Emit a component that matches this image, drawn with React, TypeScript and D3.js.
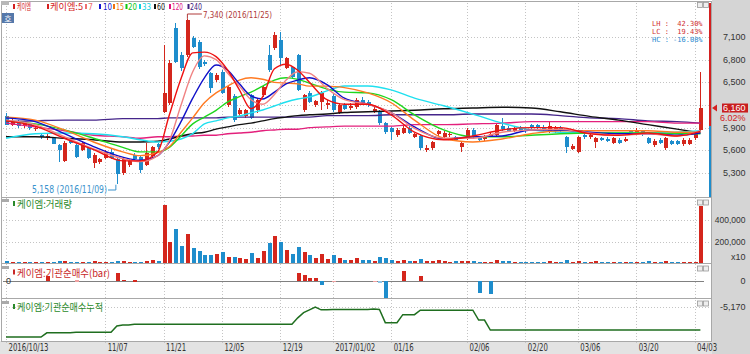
import React from 'react';
import * as d3 from 'd3';

// ---------- DATA ----------
const opens = [
  6060,5940,5990,5920,5950,5890,5800,5770,5760,5670,
  5460,5740,5670,5610,5630,5430,5440,5500,5580,5490,
  5300,5400,5540,5510,5400,5520,5690,6110,6230,7220,
  6860,6860,7090,7030,6770,6620,6530,6640,6200,6320,
  6080,6050,6330,6130,6330,6860,6950,7060,6690,6700,
  6860,6130,6360,6200,6240,6200,6320,6100,6200,6160,
  6170,6270,6240,6120,6110,5960,5900,5800,5830,5900,
  5780,5790,5610,5630,5810,5780,5800,5770,5650,5760,
  5870,5770,5750,5790,5800,5920,5900,5860,5900,5880,
  5930,5930,5910,5850,5850,5900,5770,5620,5580,5800,
  5770,5710,5760,5750,5700,5740,5730,5850,5830,5850,
  5760,5670,5740,5630,5720,5720,5680,5690,5760,5870,
];
const highs = [
  6090,6020,6000,5980,5960,5920,5830,5810,5780,5690,
  5720,5760,5690,5720,5650,5560,5500,5600,5620,5500,
  5500,5480,5560,5520,5700,5660,5700,6990,6800,7280,
  6900,7340,7110,7060,6800,6640,6620,6660,6460,6340,
  6160,6150,6350,6290,6460,6990,7160,7160,6840,6720,
  6880,6350,6380,6270,6380,6260,6340,6220,6220,6220,
  6290,6300,6260,6170,6130,5980,5910,5890,5920,5920,
  5830,5810,5670,5730,5870,5850,5840,5790,5720,5890,
  5890,5790,5800,5840,5960,6030,5920,5910,5920,5900,
  5950,5950,5930,5980,5920,5920,5790,5680,5790,5820,
  5820,5780,5780,5770,5780,5760,5770,5870,5890,5870,
  5780,5750,5760,5780,5740,5740,5760,5760,5830,6640,
];
const lows = [
  5930,5920,5900,5900,5870,5860,5750,5740,5680,5450,
  5450,5690,5500,5590,5480,5370,5420,5480,5480,5158,
  5280,5380,5470,5300,5390,5500,5620,6100,6200,6750,
  6650,6840,6950,6680,6720,6360,6500,6340,6180,5980,
  6060,6030,6010,6100,6310,6640,6930,6730,6670,6550,
  6380,6110,6220,6180,6130,6150,6110,6080,6130,6140,
  6150,6210,6180,6100,5940,5820,5740,5780,5810,5810,
  5760,5610,5580,5610,5790,5760,5780,5720,5580,5740,
  5750,5720,5730,5770,5780,5860,5840,5840,5850,5830,
  5880,5870,5850,5830,5830,5830,5560,5600,5560,5750,
  5750,5630,5720,5710,5680,5680,5710,5810,5810,5790,
  5680,5650,5680,5610,5670,5670,5660,5670,5740,5860,
];
const closes = [
  5940,5990,5920,5960,5890,5900,5770,5790,5690,5600,
  5700,5700,5510,5700,5500,5540,5480,5580,5500,5290,
  5480,5460,5490,5340,5570,5640,5650,6360,6760,6770,
  6690,7320,6970,6700,6740,6420,6600,6360,6440,6000,
  6140,6130,6030,6270,6440,6660,7120,6820,6820,6570,
  6400,6330,6240,6250,6360,6230,6130,6200,6150,6190,
  6270,6230,6200,6150,5960,5840,5840,5870,5900,5830,
  5810,5630,5630,5710,5850,5830,5820,5740,5700,5870,
  5770,5740,5780,5820,5940,5880,5860,5890,5870,5850,
  5900,5890,5870,5920,5900,5850,5640,5660,5770,5770,
  5800,5760,5740,5730,5760,5700,5750,5830,5870,5810,
  5700,5730,5700,5760,5690,5690,5740,5740,5810,6160,
];
const volumes = [
  14000,9000,12000,8000,10000,7000,11000,9000,12000,16000,
  15000,8000,13000,9000,12000,14000,8000,10000,9000,22000,
  18000,9000,7000,12000,20000,26000,15000,536000,200000,318000,
  155000,273000,136000,109000,73000,73000,82000,100000,55000,58000,
  45000,40000,90000,50000,110000,190000,250000,200000,120000,80000,
  150000,100000,70000,45000,80000,40000,70000,45000,30000,28000,
  50000,30000,25000,20000,55000,45000,30000,20000,25000,20000,
  15000,35000,18000,20000,25000,15000,12000,14000,18000,22000,
  18000,12000,10000,12000,30000,20000,14000,10000,9000,10000,
  9000,8000,9000,14000,10000,9000,24000,12000,22000,10000,
  9000,14000,8000,9000,10000,9000,8000,12000,11000,9000,
  14000,12000,9000,16000,9000,8000,10000,9000,12000,530000,
];
// 기관순매수 (institutional net buying)
const instNet = [
  0,0,0,0,0,0,0,420,0,0,
  0,0,50,0,0,0,0,0,0,620,
  100,0,80,0,0,0,0,0,0,0,
  0,0,0,0,0,0,0,0,0,0,
  0,0,0,0,0,0,0,0,0,0,
  640,520,280,280,-280,0,40,0,0,0,
  0,0,0,30,-30,-1320,0,0,800,0,
  0,440,0,0,0,0,0,0,0,0,
  0,-980,0,-1000,0,0,0,0,0,0,
  0,0,0,0,0,0,0,0,0,0,
  0,0,0,0,0,0,0,0,0,0,
  0,0,0,0,0,0,0,0,0,0,
];
const instStart = -8160;

const tickIdx = [0,17,27,37,47,56,66,79,89,98,108,118];
const tickLabels = ['2016/10/13','11/07','11/21','12/05','12/19','2017/01/02','01/16','02/06','02/20','03/06','03/20','04/03'];
const priceTicks = [7100,6800,6500,6200,5900,5600,5300];
const priceTickLabels = ['7,100','6,800','6,500','','5,900','5,600','5,300'];
const volTicks = [400000,200000];
const volTickLabels = ['400,000','200,000'];

// moving averages sampled at these candle indices
const maIdx = [0,5,10,15,20,23,26,28,30,32,34,36,38,40,42,44,46,48,50,52,55,58,62,66,70,75,80,85,90,95,100,105,110,115,119];
const ma5 = [5990,5920,5760,5610,5460,5460,5580,6070,6550,6890,6900,6840,6660,6400,6150,6310,6680,6740,6660,6500,6270,6210,6210,6070,5840,5740,5790,5870,5900,5900,5820,5800,5830,5790,5850];
const ma7 = [6000,5940,5780,5620,5490,5450,5530,5730,6200,6640,6850,6800,6620,6450,6270,6210,6340,6530,6640,6620,6420,6270,6210,6100,5890,5760,5760,5840,5870,5880,5830,5800,5820,5790,5860];
const ma10 = [6030,5980,5820,5650,5510,5470,5530,5710,5980,6290,6560,6730,6660,6480,6320,6280,6370,6480,6530,6560,6470,6290,6210,6100,5910,5750,5780,5790,5870,5870,5840,5820,5820,5800,5830];
const ma15 = [6040,6000,5870,5710,5580,5530,5570,5650,5840,6030,6230,6360,6450,6530,6560,6540,6500,6490,6480,6450,6450,6430,6360,6230,6000,5760,5710,5750,5820,5860,5860,5860,5860,5840,5840];
const ma20 = [5990,5950,5870,5760,5640,5580,5580,5640,5790,5950,6040,6130,6240,6310,6370,6450,6530,6560,6540,6490,6410,6370,6360,6270,6070,5870,5780,5780,5800,5820,5830,5830,5830,5820,5820];
const ma33 = [5760,5820,5830,5820,5780,5740,5710,5720,5750,5820,5950,5990,6030,6055,6095,6134,6187,6240,6280,6306,6386,6452,6452,6400,6290,6190,6080,5960,5870,5840,5830,5830,5830,5840,5860];
const ma60 = [5780,5780,5760,5740,5710,5710,5720,5750,5790,5820,5840,5880,5910,5940,5960,5990,6020,6040,6060,6070,6080,6100,6110,6120,6130,6150,6160,6170,6160,6110,6050,6000,5940,5880,5830];
const ma120 = [5960,5910,5860,5800,5780,5760,5780,5780,5790,5790,5800,5800,5820,5830,5840,5860,5870,5880,5880,5900,5910,5920,5920,5920,5940,5940,5950,5960,5980,5980,5980,5980,5980,5960,5960];
const ma240 = [5980,5990,6000,6000,6020,6020,6020,6030,6030,6030,6030,6030,6040,6040,6040,6040,6040,6040,6040,6040,6060,6060,6060,6070,6070,6070,6080,6080,6080,6060,6030,6020,5990,5980,5960];

const maSeries = [
  { name: '240', values: ma240, color: '#45258a' },
  { name: '120', values: ma120, color: '#e3207c' },
  { name: '60', values: ma60, color: '#111111' },
  { name: '33', values: ma33, color: '#1fe0ef' },
  { name: '20', values: ma20, color: '#1fd61f' },
  { name: '15', values: ma15, color: '#ff7a22' },
  { name: '10', values: ma10, color: '#1010c8' },
  { name: '7', values: ma7, color: '#f08282' },
  { name: '5', values: ma5, color: '#ee1111' },
];

const legendItems = [
  { t: '케이엠', color: '#d42020', sq: 13, x: 17, w: 14 },
  { t: '케이엠:5', color: '#d42020', sq: 47, x: 50, w: 33 },
  { t: '7', color: '#f07070', sq: 85, x: 88, w: 5 },
  { t: '10', color: '#1515d0', sq: 99, x: 103, w: 9 },
  { t: '15', color: '#f07010', sq: 113, x: 116, w: 8 },
  { t: '20', color: '#10c810', sq: 125.5, x: 128, w: 9 },
  { t: '33', color: '#10d0e0', sq: 139, x: 142, w: 9 },
  { t: '60', color: '#111', sq: 154, x: 157, w: 8 },
  { t: '120', color: '#e01080', sq: 169, x: 172, w: 11 },
  { t: '240', color: '#402080', sq: 187.5, x: 190, w: 12 },
];

const RED = '#d4261c';
const BLUE = '#1e8dcc';
const KR = "'Noto Sans CJK KR', sans-serif";
const SANS = "'DejaVu Sans', sans-serif";
const LIB = "'Liberation Sans', sans-serif";
const MONO = "'DejaVu Sans Mono', monospace";

function T(props: any) {
  const { x, y, t, w, fill = '#333', anchor = 'start', size = 10, font = SANS } = props;
  return (
    <text x={x} y={y} fill={fill} textAnchor={anchor} dominantBaseline="central"
      fontSize={size} fontFamily={font} textLength={w} lengthAdjust={w ? 'spacingAndGlyphs' : undefined}
      style={{ whiteSpace: 'pre' }}>{t}</text>
  );
}

export default function App() {
  const x = d3.scaleLinear().domain([0, 119]).range([6, 700.4]);
  const yP = d3.scaleLinear().domain([5300, 7100]).range([173, 37]);
  const yV = d3.scaleLinear().domain([0, 400000]).range([263, 220]);
  const yB = d3.scaleLinear().domain([-1360, 0]).range([298, 281]);
  const yC = d3.scaleLinear().domain([-8160, -5170]).range([337, 307]);

  const cum = Array.from(d3.cumsum(instNet), (v) => instStart + v);
  const cumLine = d3.line<number>().x((_, i) => x(i)).y((d) => yC(d));
  const maLine = (vals: number[]) =>
    d3.line<number>().x((_, i) => x(maIdx[i])).y((d) => yP(d)).curve(d3.curveMonotoneX)(vals) || '';

  const idx = d3.range(closes.length);
  const up = (i: number) => closes[i] >= opens[i];
  const bw = 4;
  const last = closes.length - 1;
  const grid = '#c4c4c4';
  const RX = 745.5;

  const panelBtns = (y: number) => (
    <g>
      <rect x={697.5} y={y} width={5} height={5} fill="#eee" stroke="#999" strokeWidth={0.8} />
      <rect x={703.5} y={y} width={5} height={5} fill="#eee" stroke="#999" strokeWidth={0.8} />
    </g>
  );
  const panelIcon = (y: number) => <rect x={2} y={y} width={7} height={3} fill="#aaa" />;

  return (
    <svg width={750} height={354} style={{ position: 'absolute', left: 0, top: 0, background: '#fff' }}>
      <rect x={0} y={0} width={750} height={354} fill="#fff" />
      {/* right axis strip and bottom strip */}
      <rect x={712} y={0} width={38} height={354} fill="#d5d5d5" />
      <rect x={0} y={341} width={712} height={13} fill="#e3e3e3" />

      {/* vertical grid */}
      {tickIdx.map((ti, k) => (
        <line key={'vg' + k} x1={Math.round(x(ti)) + 0.5} x2={Math.round(x(ti)) + 0.5} y1={3} y2={344}
          stroke={grid} strokeDasharray="1,2" />
      ))}
      {/* horizontal price grid */}
      {priceTicks.map((p, k) => (
        <line key={'pg' + k} x1={3} x2={710} y1={Math.round(yP(p)) + 0.5} y2={Math.round(yP(p)) + 0.5}
          stroke={grid} strokeDasharray="1,2" />
      ))}
      {volTicks.map((v, k) => (
        <line key={'vgl' + k} x1={3} x2={710} y1={Math.round(yV(v)) + 0.5} y2={Math.round(yV(v)) + 0.5}
          stroke={grid} strokeDasharray="1,2" />
      ))}
      <line x1={3} x2={710} y1={Math.round(yC(-5170)) + 0.5} y2={Math.round(yC(-5170)) + 0.5}
        stroke={grid} strokeDasharray="1,2" />

      {/* panel frames */}
      <rect x={1.5} y={1.5} width={710} height={340} fill="none" stroke="#a8a8a8" />
      {[197.5, 263.5, 298.5].map((yy, k) => (
        <line key={'sep' + k} x1={1.5} x2={711.5} y1={yy} y2={yy} stroke="#a8a8a8" />
      ))}

      {/* candles */}
      <g shapeRendering="crispEdges">
        {idx.map((i) => {
          const c = up(i) ? RED : BLUE;
          const cx = Math.round(x(i));
          const yo = yP(opens[i]), yc = yP(closes[i]);
          return (
            <g key={'c' + i}>
              <line x1={cx + 0.5} x2={cx + 0.5} y1={yP(highs[i])} y2={yP(lows[i])} stroke={c} />
              <rect x={cx - bw / 2 + 0.5} y={Math.min(yo, yc)} width={bw} height={Math.max(1, Math.abs(yo - yc))} fill={c} />
            </g>
          );
        })}
      </g>

      {/* moving averages */}
      {maSeries.map((s) => (
        <path key={'ma' + s.name} d={maLine(s.values)} fill="none" stroke={s.color} strokeWidth={1.4} />
      ))}

      {/* annotations */}
      <polyline points={`${x(31) + 0.5},${yP(7340)} ${x(31) + 0.5},14 ${x(31) + 15},14`} fill="none" stroke="#b03a3a" />
      <T x={203} y={14.5} t="7,340 (2016/11/25)" w={69} fill="#b03a3a" size={9.5} />
      <T x={32} y={189} t="5,158 (2016/11/09)" w={75} fill="#3a92cc" />
      <polyline points={`108,190 ${x(19) - 1},190 ${x(19) - 1},${yP(5158) + 1}`} fill="none" stroke="#3a92cc" />

      {/* stats */}
      <T x={652} y={23.5} t="LH :  42.30%" fill="#d03030" font={MONO} size={7} />
      <T x={652} y={31.5} t="LC :  19.43%" fill="#d03030" font={MONO} size={7} />
      <T x={652} y={39.5} t="HC : -16.08%" fill="#2a8ad0" font={MONO} size={7} />

      {/* top legend */}
      {legendItems.map((l, k) => (
        <g key={'lg' + k}>
          <rect x={l.sq} y={4} width={2} height={5} fill={l.color} />
          <T x={l.x} y={6.5} t={l.t} w={l.w} fill={l.color} font={k < 2 ? KR : SANS} size={9} />
        </g>
      ))}
      {/* top-left icons */}
      <rect x={1} y={1} width={8} height={4} fill="#b8b8b8" />
      <rect x={2} y={13} width={12} height={10} fill="#5578aa" />
      <text x={8} y={18.5} fill="#fff" fontSize={8} fontFamily={KR} textAnchor="middle" dominantBaseline="central">호</text>
      {panelBtns(2.5)}

      {/* volume panel */}
      <g shapeRendering="crispEdges">
        {idx.map((i) => {
          const cx = Math.round(x(i));
          return <rect key={'v' + i} x={cx - bw / 2 + 0.5} y={yV(volumes[i])} width={bw}
            height={Math.max(1, yV(0) - yV(volumes[i]))} fill={up(i) ? RED : BLUE} />;
        })}
      </g>
      {panelIcon(199)}
      <rect x={13} y={201} width={2} height={5} fill="#2a8a2a" />
      <T x={17} y={203.5} t="케이엠:거래량" w={55} fill="#2a8a2a" font={KR} size={10} />
      {panelBtns(200)}

      {/* institutional net buy bars */}
      <line x1={3} x2={704} y1={Math.round(yB(0)) + 0.5} y2={Math.round(yB(0)) + 0.5} stroke="#808080" />
      <g shapeRendering="crispEdges">
        {idx.filter((i) => instNet[i] !== 0).map((i) => {
          const cx = Math.round(x(i));
          const v = instNet[i];
          const y0 = yB(0), y1 = yB(v);
          const small = Math.abs(v) < 60;
          const col = v > 0 ? (small ? '#f0a0a0' : RED) : (small ? '#90c8ea' : BLUE);
          return <rect key={'b' + i} x={cx - bw / 2 + 0.5} y={Math.min(y0, y1)} width={bw}
            height={Math.max(1.5, Math.abs(y1 - y0))} fill={col} />;
        })}
      </g>
      {panelIcon(266)}
      <rect x={13} y={269.5} width={2} height={5} fill="#c82828" />
      <T x={17} y={272} t="케이엠:기관순매수(bar)" w={93} fill="#c82828" font={KR} size={10} />
      <T x={8.5} y={280.5} t="0" fill="#333" anchor="middle" size={9} font={LIB} />
      {panelBtns(266)}

      {/* cumulative */}
      <path d={cumLine(cum) || ''} fill="none" stroke="#1f6e1f" strokeWidth={1.5} />
      {panelIcon(301)}
      <rect x={13} y={304} width={2} height={5} fill="#2a8a2a" />
      <T x={17} y={306.5} t="케이엠:기관순매수누적" w={86} fill="#2a8a2a" font={KR} size={10} />
      {panelBtns(301)}

      {/* x axis labels */}
      {tickIdx.map((ti, k) => (
        <T key={'xl' + k} x={x(ti) + 2.5} y={347.5} t={tickLabels[k]}
          w={tickLabels[k].length > 5 ? 40 : 20} fill="#333" size={10} />
      ))}

      {/* right axis: price */}
      <line x1={710} x2={710} y1={3} y2={126} stroke="#d42020" strokeWidth={2} />
      <line x1={710} x2={710} y1={126} y2={197} stroke="#1e8dcc" strokeWidth={2} />
      {priceTicks.map((p, k) => priceTickLabels[k] ? (
        <T key={'pt' + k} x={RX} y={yP(p)} t={priceTickLabels[k]} anchor="end" fill="#333" size={9} font={LIB} />
      ) : null)}
      <path d={`M712,${yP(closes[last])} L717,${yP(closes[last]) - 3.5} L717,${yP(closes[last]) + 3.5} Z`} fill="#d42020" />
      <rect x={722} y={yP(closes[last]) - 4.5} width={26} height={9} fill="#c81e1e" />
      <T x={RX} y={yP(closes[last])} t="6,160" anchor="end" fill="#fff" size={9} font={LIB} />
      <T x={RX} y={yP(closes[last]) + 10} t="6.02%" anchor="end" fill="#d42020" size={9} font={LIB} />

      {/* right axis: volume */}
      {volTicks.map((v, k) => (
        <T key={'vt' + k} x={RX} y={yV(v)} t={volTickLabels[k]} anchor="end" fill="#333" size={8.5} font={LIB} />
      ))}
      <T x={RX} y={257} t="x10" anchor="end" fill="#333" size={9} font={LIB} />
      {/* right axis: bar and cum */}
      <T x={RX} y={yB(0)} t="0" anchor="end" fill="#333" size={9} font={LIB} />
      <T x={RX} y={yC(-5170)} t="-5,170" anchor="end" fill="#333" size={9} font={LIB} />
    </svg>
  );
}
